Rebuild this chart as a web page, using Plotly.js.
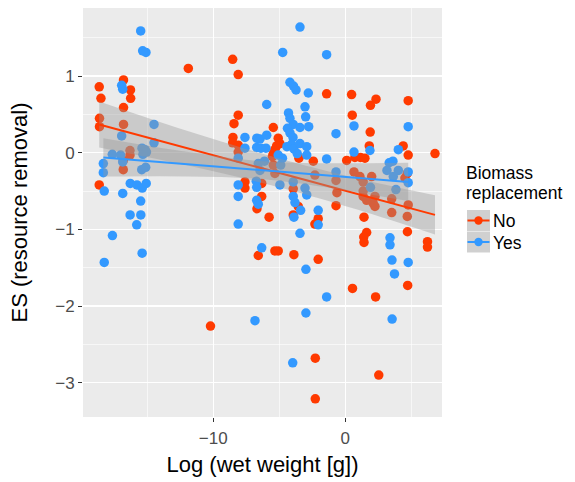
<!DOCTYPE html>
<html>
<head>
<meta charset="utf-8">
<script src="https://cdn.plot.ly/plotly-3.0.1.min.js"></script>
<style>html,body{margin:0;padding:0;background:#fff;}#chart{width:575px;height:482px;}</style>
</head>
<body>
<div id="chart"></div>
<script>
// Biomass replacement = No
const noX = [-11.89,-16.80,-18.64,-16.27,-18.51,-16.26,-16.80,-18.62,-18.62,-16.80,-16.31,-16.31,-16.82,-16.82,-18.64,-10.21,
  -8.53,-8.11,-1.41,-8.11,-8.43,-8.51,-8.53,-8.11,-8.11,-5.45,-5.08,-4.95,-5.20,-5.33,-5.45,-5.52,-3.51,-2.42,-2.30,-5.45,-5.33,
  -6.33,-7.60,-7.60,-6.33,-3.94,-3.56,-6.69,-5.77,-3.94,-2.30,-2.05,-6.59,-5.33,-5.08,-3.89,-2.05,-2.27,-2.27,
  0.48,2.33,1.91,4.77,0.53,1.89,1.82,4.39,4.77,6.80,0.11,0.73,1.15,1.49,0.66,1.11,1.36,2.00,-0.70,-0.63,1.36,1.62,2.12,3.52,
  4.70,4.52,4.77,-0.70,1.42,1.62,1.40,1.42,4.71,6.23,6.23,4.73,0.55,2.30,2.54,2.25,3.52,4.70,1.36,2.25];
const noY = [1.10,0.95,0.86,0.82,0.71,0.71,0.59,0.45,0.34,0.37,0.03,-0.03,-0.10,-0.22,-0.42,-2.26,
  1.22,1.02,0.77,0.49,0.38,0.20,0.13,0.10,0.01,0.33,0.19,0.12,0.09,0.04,-0.01,-0.05,-0.07,-0.11,-0.29,-0.16,-0.27,
  -0.40,-0.38,-0.46,-0.57,-0.47,-0.70,-0.73,-0.84,-0.81,-0.93,-0.86,-1.34,-1.28,-1.28,-1.33,-1.39,-2.68,-3.21,
  0.76,0.70,0.62,0.68,0.49,0.27,0.09,0.09,-0.03,-0.01,-0.10,-0.06,-0.06,-0.07,-0.25,-0.31,-0.38,-0.31,-0.36,-0.52,-0.57,-0.62,-0.66,-0.60,
  -0.27,-0.33,-0.68,-0.69,-0.84,-1.04,-1.10,-1.17,-1.03,-1.16,-1.23,-1.73,-1.77,-1.88,-2.90,-0.70,-0.78,-0.83,-0.50,-0.57];

// Biomass replacement = Yes
const yesX = [-15.50,-15.35,-15.10,-16.94,-16.86,-14.49,-16.94,-14.49,-17.65,-17.02,-16.86,-15.40,-15.17,-15.33,-15.06,-18.33,-18.33,
  -15.42,-15.12,-16.29,-15.78,-15.38,-15.08,-18.26,-16.86,-15.50,-16.30,-15.49,-15.80,-17.64,-15.39,-18.26,
  -3.43,-4.74,-1.41,-4.19,-3.92,-3.73,-2.80,-5.95,-3.05,-3.00,-4.30,-4.19,-3.94,-4.38,-4.19,-3.96,-3.43,-2.77,
  -7.60,-6.70,-6.46,-5.95,-7.60,-6.71,-6.39,-6.01,-4.42,-4.06,-3.89,-3.43,-2.92,-5.08,-4.76,-3.64,-2.92,-1.41,
  -6.59,-6.12,-6.46,-4.89,-8.11,-8.11,-8.11,-6.74,-6.71,-6.71,-6.59,-4.95,-3.94,-3.94,-3.81,-3.05,-2.92,-2.05,
  -3.89,-3.38,-2.05,-8.11,-3.43,-6.33,-2.98,-1.41,-6.84,-2.98,-3.98,
  0.66,-0.70,4.77,0.66,1.87,4.02,3.33,3.61,3.16,4.02,4.77,4.77,-0.70,1.91,3.84,3.39,3.39,3.54,4.77,3.73,3.55,3.64];
const yesY = [1.59,1.33,1.31,0.88,0.83,0.37,0.22,0.13,-0.02,-0.03,-0.12,0.06,0.04,-0.02,0.01,-0.14,-0.26,
  -0.22,-0.19,-0.40,-0.42,-0.46,-0.40,-0.50,-0.53,-0.63,-0.81,-0.81,-0.94,-1.08,-1.31,-1.43,
  1.64,1.31,1.28,0.92,0.87,0.82,0.78,0.63,0.60,0.47,0.52,0.45,0.37,0.32,0.26,0.20,0.33,0.34,
  0.20,0.19,0.18,0.23,0.06,0.07,0.06,0.06,0.08,0.11,0.05,0.12,0.08,-0.03,-0.07,-0.01,-0.03,-0.08,
  -0.14,-0.11,-0.23,-0.16,-0.07,-0.42,-0.57,-0.37,-0.45,-0.62,-0.67,-0.42,-0.38,-0.57,-0.65,-0.46,-0.55,-0.75,
  -0.84,-0.75,-0.94,-0.93,-1.05,-1.24,-1.52,-1.88,-2.19,-2.09,-2.74,
  0.35,0.25,0.34,0.01,0.03,0.04,-0.13,-0.11,-0.23,-0.23,-0.25,-0.39,-0.25,-0.45,-0.48,-1.11,-1.20,-1.40,-1.43,-1.58,-2.17,-0.31];

// Linear fits with confidence bands
const noFitX = [-18.64,-12,-6,-2,2,6.8];
const noFitY = [0.37,0.062,-0.216,-0.402,-0.588,-0.81];
const noLo   = [0.07,-0.163,-0.406,-0.592,-0.798,-1.065];
const noHi   = [0.67,0.287,-0.026,-0.212,-0.378,-0.555];
const yesFitX = [-18.33,-12,-6.8,-2,4.77];
const yesFitY = [-0.06,-0.148,-0.220,-0.286,-0.38];
const yesLo   = [-0.31,-0.308,-0.337,-0.436,-0.63];
const yesHi   = [0.19,0.012,-0.103,-0.136,-0.13];

const groups = ['No','Yes'];
const legendTitle = ['Biomass','replacement'];
const xTicks = [-10,0];
const yTicks = [-3,-2,-1,0,1];

const RED = '#ff3a00', BLUE = '#3399ff';
const BAND = 'rgba(153,153,153,0.4)';
const FONT = 'Liberation Sans, Arial, sans-serif';

function pts(x,y,c,name){return {type:'scatter',mode:'markers',x:x,y:y,name:name,showlegend:false,
  marker:{color:c,size:9.5,line:{width:0}},hoverinfo:'x+y'};}
function bandLo(x,y){return {type:'scatter',mode:'lines',x:x,y:y,line:{width:0,shape:'spline'},showlegend:false,hoverinfo:'skip'};}
function bandHi(x,y){return {type:'scatter',mode:'lines',x:x,y:y,fill:'tonexty',fillcolor:BAND,line:{width:0,shape:'spline'},showlegend:false,hoverinfo:'skip'};}
function fit(x,y,c){return {type:'scatter',mode:'lines',x:x,y:y,line:{color:c,width:2},showlegend:false,hoverinfo:'skip'};}

const data = [
  pts(noX,noY,RED,groups[0]), pts(yesX,yesY,BLUE,groups[1]),
  bandLo(noFitX,noLo), bandHi(noFitX,noHi), fit(noFitX,noFitY,RED),
  bandLo(yesFitX,yesLo), bandHi(yesFitX,yesHi), fit(yesFitX,yesFitY,BLUE)
];

// plot area in pixels
const L=83, R=442, T=8, B=417;
const px2x = p => (p-L)/(R-L);
const py2y = p => (B-p)/(B-T);

const shapes = [], annotations = [];
const titleY = [172.5, 193.5];
legendTitle.forEach((t,i)=>{
  annotations.push({xref:'paper',yref:'paper',x:px2x(465),y:py2y(titleY[i]),xanchor:'left',yanchor:'middle',text:t,showarrow:false,
    font:{family:FONT,size:17.5,color:'#000'},borderpad:0});
});
const keyCols=[RED,BLUE], keyTop=[210,231.5];
groups.forEach((g,i)=>{
  const t=keyTop[i], b=t+21, m=(t+b)/2;
  shapes.push({type:'rect',xref:'paper',yref:'paper',x0:px2x(467),x1:px2x(490),y0:py2y(b),y1:py2y(t),fillcolor:'#d0d0d0',line:{width:0},layer:'above'});
  shapes.push({type:'line',xref:'paper',yref:'paper',x0:px2x(467.5),x1:px2x(489.5),y0:py2y(m),y1:py2y(m),line:{color:keyCols[i],width:2},layer:'above'});
  shapes.push({type:'circle',xref:'paper',yref:'paper',xsizemode:'pixel',ysizemode:'pixel',xanchor:px2x(478.5),yanchor:py2y(m),
    x0:-4.2,x1:4.2,y0:-4.2,y1:4.2,fillcolor:keyCols[i],line:{width:0},layer:'above'});
  annotations.push({xref:'paper',yref:'paper',x:px2x(492),y:py2y(m+1),xanchor:'left',yanchor:'middle',text:g,showarrow:false,
    font:{family:FONT,size:17.5,color:'#000'},borderpad:0});
});

const layout = {
  width:575,height:482,
  margin:{l:L,r:575-R,t:T,b:482-B,pad:0},
  paper_bgcolor:'#ffffff',plot_bgcolor:'#ebebeb',
  font:{family:FONT,color:'#000'},
  showlegend:false,
  xaxis:{range:[-19.87,7.33],tickvals:xTicks,showgrid:true,gridcolor:'#ffffff',gridwidth:1.3,zeroline:false,
    ticks:'outside',ticklen:4,tickwidth:1,tickcolor:'#333333',ticklabelstandoff:2,
    tickfont:{family:FONT,size:17,color:'#4d4d4d'},showline:false,
    minor:{tick0:-15,dtick:5,showgrid:true,gridcolor:'#ffffff',gridwidth:0.6,ticks:''},
    title:{text:'Log (wet weight [g])',font:{family:FONT,size:22,color:'#000'},standoff:9},automargin:false},
  yaxis:{range:[-3.447,1.889],tickvals:yTicks,showgrid:true,gridcolor:'#ffffff',gridwidth:1.3,zeroline:false,
    ticks:'outside',ticklen:4,tickwidth:1,tickcolor:'#333333',
    tickfont:{family:FONT,size:17,color:'#4d4d4d'},showline:false,
    minor:{tick0:-3.5,dtick:0.5,showgrid:true,gridcolor:'#ffffff',gridwidth:0.6,ticks:''},
    title:{text:'ES (resource removal)',font:{family:FONT,size:22,color:'#000'},standoff:21},automargin:false},
  shapes:shapes,annotations:annotations
};
Plotly.newPlot('chart',data,layout,{staticPlot:true,displayModeBar:false});
</script>
</body>
</html>
